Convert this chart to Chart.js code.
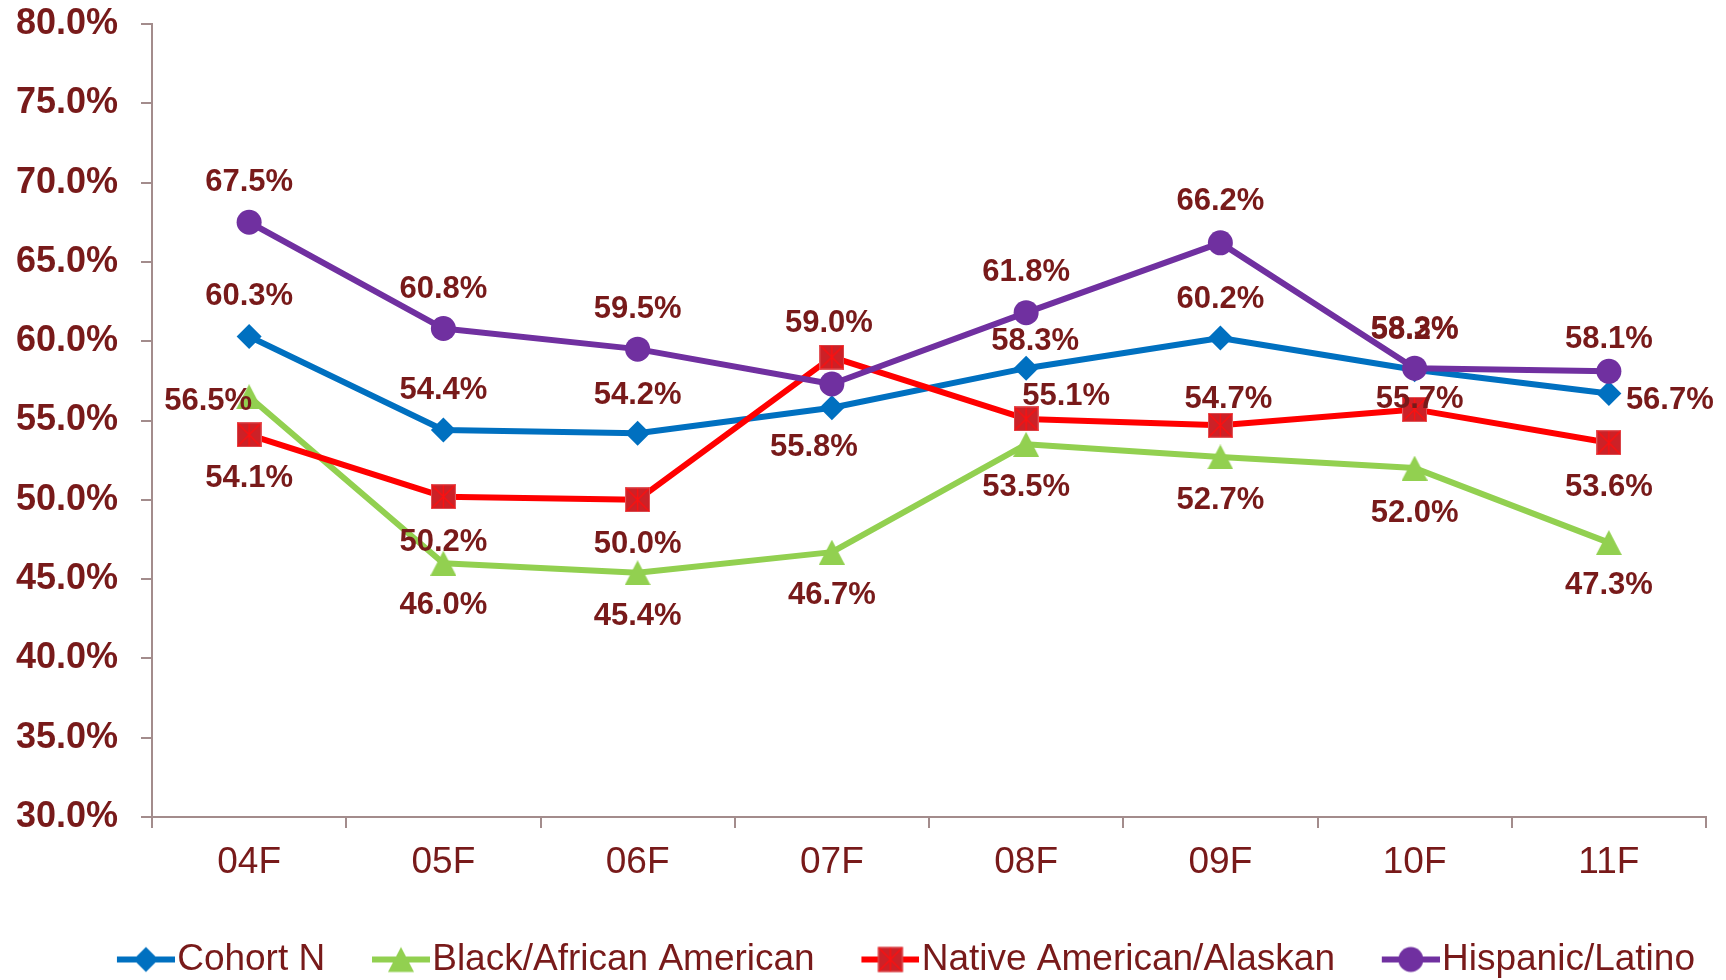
<!DOCTYPE html>
<html><head><meta charset="utf-8">
<script src="https://cdn.jsdelivr.net/npm/chart.js@4.4.1/dist/chart.umd.min.js"></script>
<style>html,body{margin:0;padding:0;background:#fff;overflow:hidden}canvas{display:block}</style>
</head><body>
<canvas id="c" width="1726" height="980"></canvas>
<script>
// ---- data ----
const categories = ['04F','05F','06F','07F','08F','09F','10F','11F'];
const cohortN = [60.3, 54.4, 54.2, 55.8, 58.3, 60.2, 58.2, 56.7];
const blackAfricanAmerican = [56.5, 46.0, 45.4, 46.7, 53.5, 52.7, 52.0, 47.3];
const nativeAmericanAlaskan = [54.1, 50.2, 50.0, 59.0, 55.1, 54.7, 55.7, 53.6];
const hispanicLatino = [67.5, 60.8, 59.5, 57.3, 61.8, 66.2, 58.3, 58.1];
const seriesNames = ['Cohort N', 'Black/African American', 'Native American/Alaskan', 'Hispanic/Latino'];
const yMin = 30, yMax = 80, yStep = 5;

// ---- style ----
const FONT = '"Liberation Sans", Arial, sans-serif';
const TEXT = '#781a1a';
const AXIS = '#a38c8c';
const COLORS = ['#0070C0', '#92D050', '#FF0000', '#7030A0'];

function makeCanvas(w, h) { const c = document.createElement('canvas'); c.width = w; c.height = h; return c; }
function drawDiamond(g, cx, cy, r, color) { g.fillStyle = color; g.beginPath(); g.moveTo(cx, cy - r); g.lineTo(cx + r, cy); g.lineTo(cx, cy + r); g.lineTo(cx - r, cy); g.closePath(); g.fill(); }
function drawTriangle(g, cx, cy, w, h, color) { g.fillStyle = color; g.beginPath(); g.moveTo(cx, cy - h / 2); g.lineTo(cx + w / 2, cy + h / 2); g.lineTo(cx - w / 2, cy + h / 2); g.closePath(); g.fill(); }
function drawCircle(g, cx, cy, r, color) { g.fillStyle = color; g.beginPath(); g.arc(cx, cy, r, 0, Math.PI * 2); g.fill(); }
function drawSquare(g, cx, cy, s) {
  const x = cx - s / 2, y = cy - s / 2;
  g.fillStyle = '#cc2127'; g.fillRect(x, y, s, s);
  g.strokeStyle = '#e2585c'; g.lineWidth = 1; g.strokeRect(x + 0.5, y + 0.5, s - 1, s - 1);
  g.strokeStyle = '#ff1010'; g.lineWidth = 1.4;
  g.beginPath();
  g.moveTo(x + 1, y + 1); g.lineTo(x + s - 1, y + s - 1);
  g.moveTo(x + s - 1, y + 1); g.lineTo(x + 1, y + s - 1);
  g.moveTo(cx, y + 1); g.lineTo(cx, y + s - 1);
  g.stroke();
}
const triImg = (() => { const c = makeCanvas(26, 25); drawTriangle(c.getContext('2d'), 13, 12.5, 26, 25, COLORS[1]); return c; })();
const sqImg = (() => { const c = makeCanvas(25, 25); drawSquare(c.getContext('2d'), 12.5, 12.5, 25); return c; })();

// legend symbol: transparent left part, line + marker in the rightmost 58 px
function legendImg(i) {
  const c = makeCanvas(110, 30); const g = c.getContext('2d');
  const x0 = 52, cy = 15, cx = x0 + 29;
  g.strokeStyle = COLORS[i]; g.lineWidth = 6; g.beginPath(); g.moveTo(x0, cy); g.lineTo(x0 + 58, cy); g.stroke();
  if (i === 0) drawDiamond(g, cx, cy, 12.5, COLORS[0]);
  if (i === 1) drawTriangle(g, cx, cy, 26, 25, COLORS[1]);
  if (i === 2) drawSquare(g, cx, cy, 25);
  if (i === 3) drawCircle(g, cx, cy, 12.5, COLORS[3]);
  return c;
}
const legendImgs = [0, 1, 2, 3].map(legendImg);

// label placement per series/point: [dx, dy, align]
const labelPlacement = [
  [[0,-40,'c'],[0,-40,'c'],[0,-38,'c'],[-18,40,'c'],[9,-27,'c'],[0,-39,'c'],[0,-39,'c'],[17,7,'l']],
  [[3,5,'r'],[0,42,'c'],[0,44,'c'],[0,43,'c'],[0,43,'c'],[0,43,'c'],[0,45,'c'],[0,43,'c']],
  [[0,44,'c'],[0,46,'c'],[0,45,'c'],[-3,-34,'c'],[40,-22,'c'],[8,-26,'c'],[5,-10,'c'],[0,45,'c']],
  [[0,-40,'c'],[0,-39,'c'],[0,-40,'c'],null,[0,-40,'c'],[0,-41,'c'],[0,-39,'c'],[0,-32,'c']]
];

const valueLabels = {
  id: 'valueLabels',
  afterDatasetsDraw(chart) {
    const ctx = chart.ctx;
    ctx.save();
    ctx.font = 'bold 31px ' + FONT;
    ctx.fillStyle = TEXT;
    ctx.textBaseline = 'middle';
    chart.data.datasets.forEach((ds, di) => {
      const meta = chart.getDatasetMeta(di);
      meta.data.forEach((pt, i) => {
        const pl = labelPlacement[di][i];
        if (!pl) return;
        ctx.textAlign = pl[2] === 'l' ? 'left' : (pl[2] === 'r' ? 'right' : 'center');
        ctx.fillText(ds.data[i].toFixed(1) + '%', pt.x + pl[0], pt.y + pl[1]);
      });
    });
    ctx.restore();
  }
};

const seriesData = [cohortN, blackAfricanAmerican, nativeAmericanAlaskan, hispanicLatino];
const pointStyles = ['rectRot', triImg, sqImg, 'circle'];
const datasets = seriesData.map((d, i) => ({
  label: seriesNames[i],
  data: d,
  borderColor: COLORS[i],
  backgroundColor: COLORS[i],
  borderWidth: 6,
  borderJoinStyle: 'round',
  borderCapStyle: 'round',
  tension: 0,
  fill: false,
  pointStyle: pointStyles[i],
  pointRadius: 12.5,
  pointBorderWidth: 0,
  pointBackgroundColor: COLORS[i],
  order: 3 - i
}));

new Chart(document.getElementById('c'), {
  type: 'line',
  data: { labels: categories, datasets },
  options: {
    responsive: false,
    animation: false,
    events: [],
    devicePixelRatio: 1,
    layout: { padding: { left: 16, right: 20, top: 24, bottom: -8 } },
    plugins: {
      tooltip: { enabled: false },
      legend: {
        position: 'bottom',
        align: 'end',
        labels: {
          usePointStyle: true,
          pointStyleWidth: 77.5,
          padding: 11,
          color: TEXT,
          font: { size: 37, family: FONT },
          sort: (a, b) => a.datasetIndex - b.datasetIndex,
          generateLabels(chart) {
            const items = Chart.defaults.plugins.legend.labels.generateLabels(chart);
            items.forEach(it => { it.pointStyle = legendImgs[it.datasetIndex]; it.fontColor = TEXT; });
            return items;
          }
        }
      }
    },
    scales: {
      x: {
        type: 'category',
        offset: true,
        grid: { display: true, drawOnChartArea: false, drawTicks: true, tickLength: 11, color: AXIS, lineWidth: 2, offset: true },
        border: { display: true, color: AXIS, width: 2 },
        ticks: { color: TEXT, font: { size: 37, family: FONT }, padding: 13, maxRotation: 0, autoSkip: false },
        afterFit(s) { s.height = 113; }
      },
      y: {
        min: yMin, max: yMax,
        grid: { display: true, drawOnChartArea: false, drawTicks: true, tickLength: 11, color: AXIS, lineWidth: 2 },
        border: { display: true, color: AXIS, width: 2 },
        ticks: { stepSize: yStep, color: TEXT, font: { size: 36, weight: 'bold', family: FONT }, padding: 0,
                 crossAlign: 'far', callback: v => v.toFixed(1) + '%' },
        afterFit(s) { s.width = 136; }
      }
    }
  },
  plugins: [valueLabels]
});
</script>
</body></html>
